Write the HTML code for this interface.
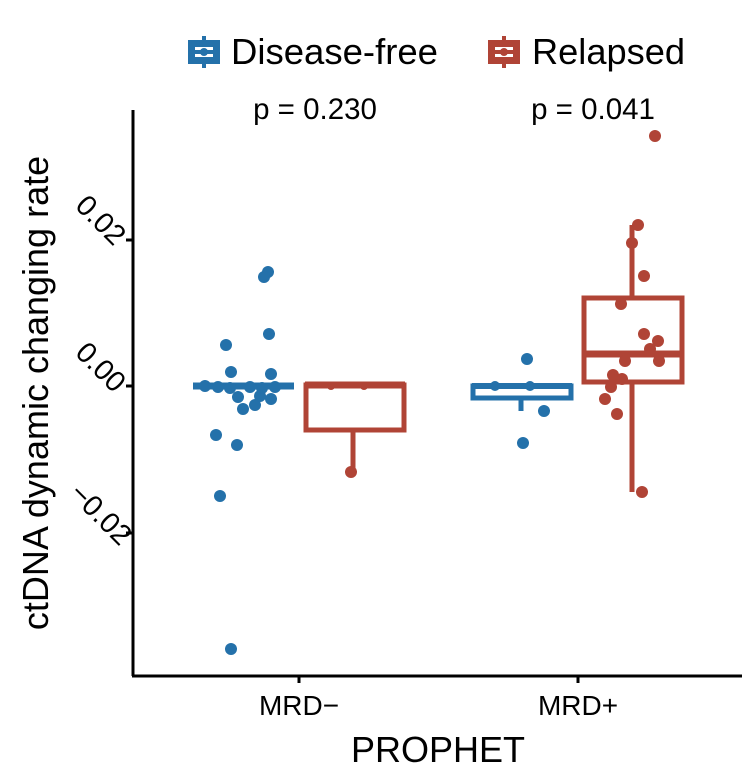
<!DOCTYPE html>
<html><head><style>body{margin:0;background:#fff}</style></head><body>
<svg width="750" height="774" viewBox="0 0 750 774" xmlns="http://www.w3.org/2000/svg" font-family="Liberation Sans, sans-serif">
<rect width="750" height="774" fill="#fff"/>
<!-- legend -->
<g fill="none" stroke-width="4">
<g stroke="#2471AA"><rect x="190" y="42" width="28" height="20" fill="#2471AA"/><line x1="204" y1="36" x2="204" y2="68"/></g>
<rect x="195" y="47" width="18" height="3" fill="#fff"/><rect x="195" y="54" width="18" height="3" fill="#fff"/>
<g stroke="#B04436"><rect x="490" y="42" width="28" height="20" fill="#B04436"/><line x1="504" y1="36" x2="504" y2="68"/></g>
<rect x="495" y="47" width="18" height="3" fill="#fff"/><rect x="495" y="54" width="18" height="3" fill="#fff"/>
</g>
<circle cx="204" cy="52" r="4" fill="#2471AA"/><circle cx="504" cy="52" r="4" fill="#B04436"/>
<text x="231" y="64" font-size="36.5" textLength="207" lengthAdjust="spacingAndGlyphs">Disease-free</text>
<text x="532" y="64" font-size="36.5" textLength="153" lengthAdjust="spacingAndGlyphs">Relapsed</text>
<text x="315" y="119" font-size="29.5" text-anchor="middle">p = 0.230</text>
<text x="593" y="119" font-size="29.5" text-anchor="middle">p = 0.041</text>
<!-- axes -->
<g stroke="#000" stroke-width="3">
<line x1="133" y1="110" x2="133" y2="676"/><line x1="132" y1="676" x2="742" y2="676"/>
<line x1="126" y1="240" x2="133" y2="240"/><line x1="126" y1="386" x2="133" y2="386"/><line x1="126" y1="533" x2="133" y2="533"/>
<line x1="299" y1="676" x2="299" y2="683"/><line x1="578" y1="676" x2="578" y2="683"/>
</g>
<g font-size="29" text-anchor="middle">
<text transform="translate(94,227) rotate(45)">0.02</text>
<text transform="translate(94,374) rotate(45)">0.00</text>
<text transform="translate(94,521) rotate(45)">−0.02</text>
</g>
<g font-size="28" text-anchor="middle">
<text x="299" y="715">MRD−</text><text x="578" y="715">MRD+</text>
</g>
<text x="438" y="762" font-size="36" text-anchor="middle">PROPHET</text>
<text transform="translate(48,393) rotate(-90)" font-size="36" text-anchor="middle">ctDNA dynamic changing rate</text>
<!-- boxes -->
<g fill="none" stroke-width="5">
<g stroke="#2471AA">
<line x1="193" y1="386" x2="294" y2="386" stroke-width="7"/>
<rect x="473" y="386" width="98" height="12"/><line x1="472" y1="386" x2="572" y2="386" stroke-width="6"/>
<line x1="521" y1="398" x2="521" y2="411"/>
</g>
<g stroke="#B04436">
<rect x="306" y="385" width="98" height="45"/><line x1="305" y1="385" x2="405" y2="385" stroke-width="7"/>
<line x1="353" y1="430" x2="353" y2="472"/>
<rect x="584" y="298" width="98" height="84"/><line x1="584" y1="354" x2="682" y2="354" stroke-width="7"/>
<line x1="632" y1="298" x2="632" y2="225"/><line x1="632" y1="382" x2="632" y2="492"/>
</g>
</g>
<g fill="#2471AA">
<circle cx="268" cy="272" r="6"/><circle cx="264" cy="277" r="6"/><circle cx="269" cy="334" r="6"/><circle cx="226" cy="345" r="6"/><circle cx="231" cy="372" r="6"/><circle cx="271" cy="374" r="6"/>
<circle cx="238" cy="397" r="6"/><circle cx="243" cy="409" r="6"/><circle cx="255" cy="405" r="6"/><circle cx="271" cy="399" r="6"/><circle cx="260" cy="396" r="6"/>
<circle cx="216" cy="435" r="6"/><circle cx="237" cy="445" r="6"/><circle cx="220" cy="496" r="6"/><circle cx="231" cy="649" r="6"/>
<circle cx="218" cy="387" r="6"/><circle cx="230" cy="388" r="6"/><circle cx="250" cy="387" r="6"/><circle cx="262" cy="388" r="6"/><circle cx="275" cy="387" r="6"/><circle cx="205" cy="386" r="6"/>
<circle cx="527" cy="359" r="6"/><circle cx="544" cy="411" r="6"/><circle cx="523" cy="443" r="6"/>
<circle cx="495" cy="386" r="5"/><circle cx="530" cy="386" r="5"/>
</g>
<g fill="#B04436">
<circle cx="331" cy="386" r="4"/><circle cx="364" cy="386" r="4"/><circle cx="351" cy="472" r="6"/>
<circle cx="655" cy="136" r="6"/><circle cx="638" cy="225" r="6"/><circle cx="632" cy="243" r="6"/><circle cx="644" cy="276" r="6"/><circle cx="621" cy="304" r="6"/>
<circle cx="644" cy="334" r="6"/><circle cx="658" cy="341" r="6"/><circle cx="650" cy="349" r="6"/><circle cx="625" cy="361" r="6"/><circle cx="659" cy="361" r="6"/>
<circle cx="613" cy="375" r="6"/><circle cx="622" cy="379" r="6"/><circle cx="611" cy="387" r="6"/><circle cx="605" cy="399" r="6"/><circle cx="617" cy="414" r="6"/><circle cx="642" cy="492" r="6"/>
</g>
</svg>
</body></html>
